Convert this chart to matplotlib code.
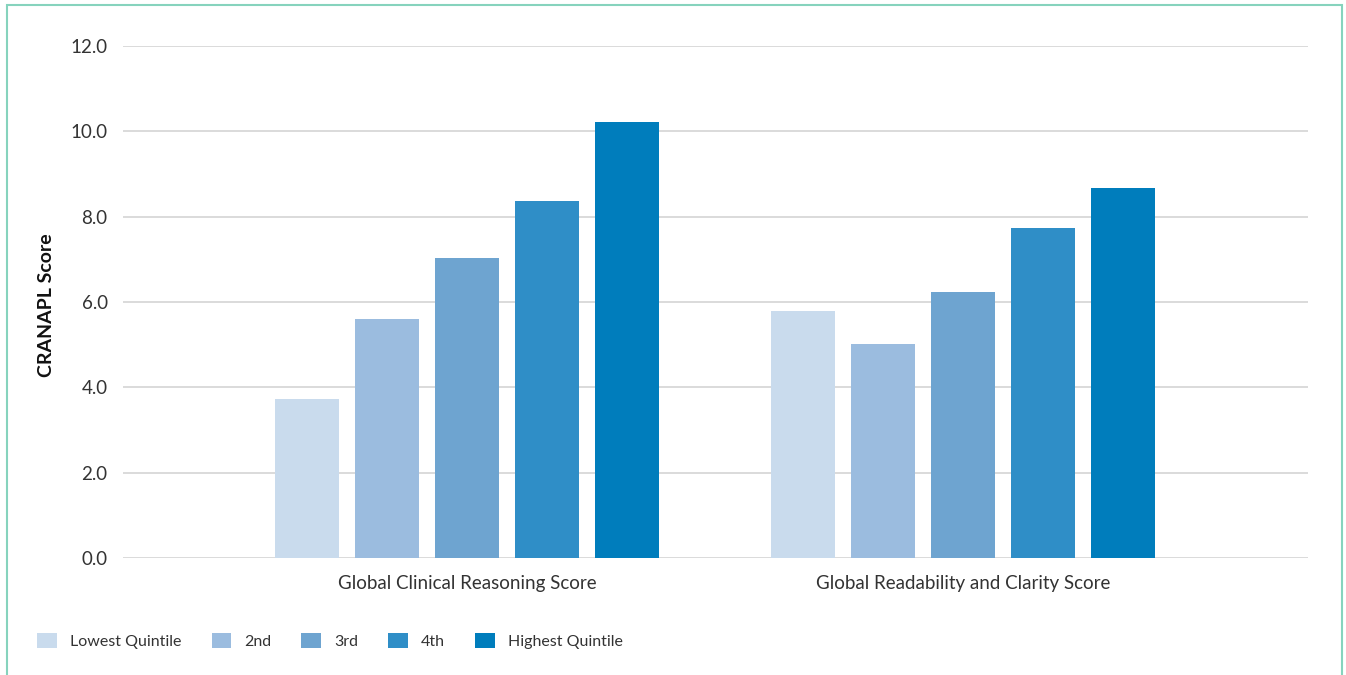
import numpy as np
import matplotlib.pyplot as plt
from matplotlib.patches import Rectangle, Patch

plt.rcParams['font.family'] = ['Lato', 'DejaVu Sans']

categories = ['Global Clinical Reasoning Score', 'Global Readability and Clarity Score']
quintiles = ['Lowest Quintile', '2nd', '3rd', '4th', 'Highest Quintile']
scores = {
    'Lowest Quintile': [3.73, 5.79],
    '2nd': [5.60, 5.02],
    '3rd': [7.03, 6.23],
    '4th': [8.37, 7.73],
    'Highest Quintile': [10.22, 8.67],
}
colors = ['#c9dbed', '#9bbcdf', '#6ea4d0', '#2f8ec7', '#007dbc']

W, H = 1346, 675
fig = plt.figure(figsize=(W / 100, H / 100), dpi=100)
ax = fig.add_axes([123 / W, 1 - 558 / H, (1308 - 123) / W, (558 - 46) / H])

x = np.arange(len(categories))
step = 80 / 496
width = 64 / 496
for i, q in enumerate(quintiles):
    ax.bar(x + (i - 2) * step, scores[q], width, color=colors[i], label=q, zorder=2)

ax.set_xlim(-344 / 496, 1 + 345 / 496)
ax.set_ylim(0, 12)
ax.set_yticks(np.arange(0, 12.1, 2))
ax.set_yticklabels(['%.1f' % v for v in np.arange(0, 12.1, 2)])
ax.set_xticks(x)
ax.set_xticklabels(categories)
ax.tick_params(length=0, labelsize=13.5, colors='#333333')
ax.tick_params(axis='y', pad=11)
ax.tick_params(axis='x', pad=12)
ax.grid(axis='y', color='#d4d4d4', linewidth=1.2, zorder=0)
for s in ax.spines.values():
    s.set_visible(False)
ax.set_ylabel('CRANAPL Score', fontsize=14, fontweight='bold', color='#111111')
ax.yaxis.set_label_coords((55 - 123) / (1308 - 123), (558 - 305) / (558 - 46))

handles = [Patch(facecolor=c, label=q) for c, q in zip(colors, quintiles)]
fig.legend(handles=handles, loc='center left', bbox_to_anchor=(23 / W, 1 - 641 / H),
           ncol=5, frameon=False, fontsize=11.5, handlelength=1.25, handleheight=1.05,
           columnspacing=1.88, handletextpad=0.8, labelcolor='#333333')

# teal frame round the chart, open at the bottom
fig.patches.append(Rectangle((7 / W, -0.05), (1342 - 7) / W, 1.05 - 5 / H,
                             transform=fig.transFigure, fill=False,
                             edgecolor='#86d3bd', linewidth=1.5))

fig.savefig('out.png', dpi=100)
